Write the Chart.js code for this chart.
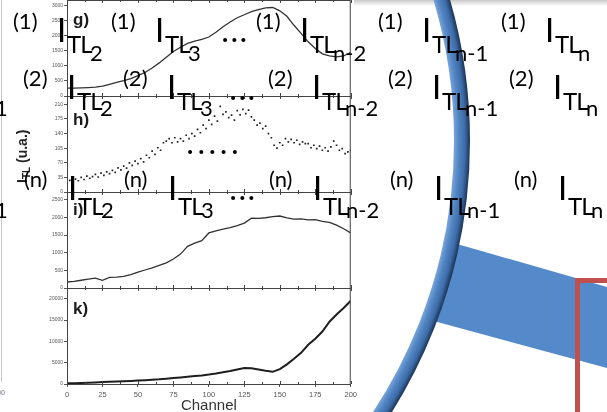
<!DOCTYPE html>
<html>
<head>
<meta charset="utf-8">
<script src="https://cdn.jsdelivr.net/npm/chart.js@4/dist/chart.umd.min.js"></script>
<style>
  html, body { margin: 0; padding: 0; background: #fff; width: 607px; height: 412px; overflow: hidden; position: relative; }
  #wrap { position: absolute; left: 0; top: -4px; width: 360px; height: 420px; }
  #shapes, #overlay { position: absolute; left: 0; top: 0; width: 607px; height: 412px; }
  .t { position: absolute; font-family: Lato, "Open Sans", sans-serif; color: #000; line-height: 1; white-space: nowrap; }
  #ytitle { position: absolute; left: 14px; top: 183px; transform-origin: 0 0; transform: rotate(-90deg);
            font: bold 14px "Liberation Sans", Arial, sans-serif; line-height: 16px; color: #222; white-space: nowrap; }
  #ytitle sub { font-size: 10px; vertical-align: -3px; }
  .plab { position: absolute; font: bold 17px "Liberation Sans", Arial, sans-serif; line-height: 1; color: #1a1a1a; }
</style>
</head>
<body>
<div style="position:absolute;left:1px;top:0;width:1px;height:382px;background:#c4c4c4"></div>
<div style="position:absolute;left:-12px;top:389px;font:7px 'Liberation Sans';color:#777;width:17px;text-align:right">200</div>
<div style="position:absolute;left:354px;top:0;width:253px;height:6px;background:linear-gradient(#c9c9c9,#fff)"></div>
<div id="wrap"><canvas id="myChart"></canvas></div>
<svg id="shapes" width="607" height="412">
  <defs>
    <radialGradient id="ring" gradientUnits="userSpaceOnUse" cx="-39" cy="141" r="509">
      <stop offset="0.968" stop-color="#7aa6dc"/>
      <stop offset="0.978" stop-color="#5286c4"/>
      <stop offset="0.99" stop-color="#3d6ca8"/>
      <stop offset="1" stop-color="#1b3354"/>
    </radialGradient>
  </defs>
  <polygon points="450,242 607,287 607,368 430,320" fill="#558aca"/>
  <circle cx="-39" cy="141" r="501" fill="none" stroke="url(#ring)" stroke-width="16"/>
  <path d="M577.5,412 V280.5 H612" fill="none" stroke="#c0504d" stroke-width="5"/>
</svg>
<div id="overlay">
  <div id="ytitle">I<sub>TL</sub> (u.a.)</div>
  <div class="plab" style="left:73px;top:11px">g)</div>
  <div class="plab" style="left:73px;top:111px">h)</div>
  <div class="plab" style="left:73px;top:201px">i)</div>
  <div class="plab" style="left:73px;top:300px">k)</div>
</div>
<script>
// channel axis
const channels = [0,5,10,15,20,25,30,35,40,45,50,55,60,65,70,75,80,85,90,95,100,
  105,110,115,120,125,130,135,140,145,150,155,160,165,170,175,180,185,190,195,200];
const channelsH = [0,2,4,6,8,10,12,14,16,18,20,22,24,26,28,30,32,34,36,38,40,42,44,46,48,50,
  52,54,56,58,60,62,64,66,68,70,72,74,76,78,80,82,84,86,88,90,92,94,96,98,100,
  102,104,106,108,110,112,114,116,118,120,122,124,126,128,130,132,134,136,138,140,142,144,146,148,150,
  152,154,156,158,160,162,164,166,168,170,172,174,176,178,180,182,184,186,188,190,192,194,196,198,200];

// panel g
const gValues = [260,265,270,280,295,330,390,450,510,580,680,780,930,1100,1290,1480,1620,1750,1820,1880,1960,
  2120,2300,2460,2600,2700,2800,2870,2930,2940,2830,2650,2350,2080,1800,1580,1400,1330,1300,1330,1450];
// panel h (scatter)
const hValues = [22,28,24,31,27,35,30,38,33,37,42,36,45,40,48,44,52,47,58,53,62,57,70,64,74,68,80,72,88,82,
  98,90,106,100,118,122,128,118,130,120,128,122,136,128,140,134,150,142,160,152,
  172,162,182,170,205,186,192,178,184,172,195,185,198,188,196,180,172,160,165,152,
  158,140,130,112,105,118,112,128,120,126,118,124,114,120,116,116,106,112,104,110,
  100,106,98,108,122,112,100,104,92,96,100];
// panel i
const iValues = [170,185,220,250,280,215,300,310,330,380,450,510,568,640,710,820,960,1180,1270,1340,1560,
  1620,1670,1710,1770,1840,1980,1970,1990,2020,2040,1990,1950,1960,1930,1940,1890,1860,1780,1680,1560];
// panel k
const kValues = [150,200,260,320,380,440,500,570,640,720,800,900,1000,1100,1250,1400,1550,1700,1850,2000,2200,
  2450,2750,3050,3400,3750,3700,3400,3100,2850,3500,4600,5900,7300,9200,10600,12300,14600,16300,17800,19500];

// tick labels
const gTicks = [0,500,1000,1500,2000,2500,3000];
const hTicks = [0,35,70,105,140,175,210];
const iTicks = [0,500,1000,1500,2000,2500];
const kTicks = [0,5000,10000,15000,20000];
const xTicks = [0,25,50,75,100,125,150,175,200];
const xMinor = [12.5,37.5,62.5,87.5,112.5,137.5,162.5,187.5];

function pts(xs, ys) {
  return xs.map((c, i) => ({x: c, y: ys[i]}));
}

// scales stack: last one added goes on top
function yAxis(max, tickList) {
  return {
    type: 'linear', position: 'left', stack: 'panels', stackWeight: 1,
    min: 0, max: max,
    afterBuildTicks: s => { s.ticks = tickList.map(v => ({value: v})); },
    ticks: { padding: 1, color: '#555', autoSkip: false, callback: v => String(v),
             font: { family: 'Liberation Sans', size: 5 } },
    grid: { drawOnChartArea: false, tickLength: 3, color: '#555' },
    border: { color: '#555' },
    afterFit: s => { s.width = 67; }
  };
}

const panelBox = {
  id: 'panelBox',
  afterDraw(chart) {
    const {ctx, chartArea, scales} = chart;
    ctx.save();
    ctx.strokeStyle = '#444';
    ctx.lineWidth = 1;
    ['yk', 'yi', 'yh', 'yg'].forEach(id => {
      const s = scales[id];
      ctx.strokeRect(chartArea.left + 0.5, Math.round(s.top) + 0.5,
                     chartArea.right - chartArea.left - 1, Math.round(s.bottom - s.top));
      ctx.beginPath();
      xTicks.concat(xMinor).forEach(v => {
        const px = Math.round(scales.x.getPixelForValue(v)) + 0.5;
        const len = xTicks.includes(v) ? 3 : 2;
        ctx.moveTo(px, s.top); ctx.lineTo(px, s.top + len);
        ctx.moveTo(px, s.bottom); ctx.lineTo(px, s.bottom - len);
      });
      ctx.stroke();
    });
    ctx.restore();
  }
};

const ctx = document.getElementById('myChart');
new Chart(ctx, {
  type: 'line',
  data: {
    datasets: [
      { data: pts(channels, kValues), yAxisID: 'yk', borderColor: '#1e1e1e', borderWidth: 2, pointRadius: 0 },
      { data: pts(channels, iValues), yAxisID: 'yi', borderColor: '#333', borderWidth: 1.3, pointRadius: 0 },
      { data: pts(channelsH, hValues), yAxisID: 'yh', showLine: false, pointStyle: 'rect',
        pointRadius: 1.2, borderWidth: 0, backgroundColor: '#222', pointBorderWidth: 0 },
      { data: pts(channels, gValues), yAxisID: 'yg', borderColor: '#333', borderWidth: 1.3, pointRadius: 0 }
    ]
  },
  options: {
    responsive: true,
    maintainAspectRatio: false,
    animation: false,
    layout: { padding: { left: 0, right: 7, top: 0, bottom: 0 } },
    plugins: { legend: { display: false }, tooltip: { enabled: false } },
    scales: {
      x: {
        type: 'linear', min: 0, max: 200,
        afterBuildTicks: s => { s.ticks = xTicks.map(v => ({value: v})); },
        ticks: { padding: 3, maxRotation: 0, autoSkip: false, color: '#555',
                 font: { family: 'Liberation Sans', size: 7.5 } },
        grid: { drawOnChartArea: false, tickLength: 3, color: '#555' },
        border: { color: '#555' },
        title: { display: true, text: 'Channel', color: '#333',
                 font: { family: 'Liberation Sans', size: 15 }, padding: { top: 0, bottom: 1 } },
        afterFit: s => { s.height = 32; }
      },
      yk: yAxis(22500, kTicks),
      yi: yAxis(2720, iTicks),
      yh: yAxis(230, hTicks),
      yg: yAxis(3190, gTicks)
    }
  },
  plugins: [panelBox]
});

// overlay labels  (n) I_TL_j
const overlay = document.getElementById('overlay');
function put(text, x, base, size, extra) {
  const s = document.createElement('span');
  s.className = 't';
  s.textContent = text;
  s.style.left = x + 'px';
  s.style.top = (base - 0.887 * size) + 'px';
  s.style.fontSize = size + 'px';
  if (extra) Object.assign(s.style, extra);
  overlay.appendChild(s);
}

const rowTags = ['(1)', '(2)', '(n)'];
const subs = ['2', '3', 'n-2', 'n-1', 'n'];
const rowBase = [
  { sup: 30, I: 42, tl: 53, sb: 62, dots: 42, dotX: 222 },
  { sup: 87, I: 99, tl: 110, sb: 117, dots: 100, dotX: 230 },
  { sup: 188, I: 200, tl: 215, sb: 219, dots: 200, dotX: 230 }
];
const colX = [
  [57, 155, 300, 422, 545],
  [67, 167, 312, 432, 553],
  [68, 168, 313, 434, 558]
];

rowBase.forEach((r, ri) => {
  colX[ri].forEach((ix, ci) => {
    put(rowTags[ri], ix - 44, r.sup, 22);
    put('I', ix, r.I, 33);
    put('TL', ix + 10, r.tl, 24, { letterSpacing: '-1px' });
    put(subs[ci], ix + 33, r.sb, 22);
  });
  put('...', r.dotX, r.dots, 26, { fontWeight: 'bold', letterSpacing: '3px' });
});
// clipped subscripts at the left edge
put('1', -5, 117, 22);
put('1', -5, 219, 22);
// dots inside panel h
put('.....', 187, 154, 26, { fontWeight: 'bold', letterSpacing: '5px' });
</script>
</body>
</html>
